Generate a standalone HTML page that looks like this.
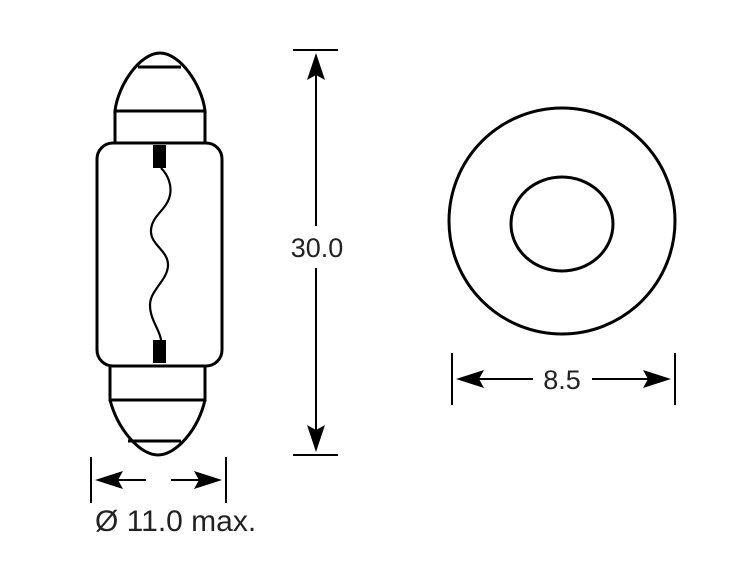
<!DOCTYPE html>
<html><head><style>html,body{margin:0;padding:0;background:#fff}svg{display:block}</style></head>
<body>
<svg width="741" height="574" viewBox="0 0 741 574" xmlns="http://www.w3.org/2000/svg">
<g fill="none" stroke="#000" stroke-width="3">
<path d="M115,111 C118,85 140,53 160,53 C180,53 202,85 205,111 Z"/>
<line x1="138" y1="67" x2="181" y2="67"/>
<rect x="115" y="111" width="90" height="32"/>
<rect x="97" y="143" width="125" height="223" rx="16"/>
<rect x="110" y="366" width="95" height="34"/>
<path d="M110,400 C118,430 140,455 158,455 C176,455 198,430 205,400"/>
<line x1="128" y1="441" x2="181" y2="441"/>
<path stroke-width="2.2" d="M161,168 C168,175 172,185 170,195 C167,210 152,215 151,230 C150,245 168,250 168,265 C168,280 150,290 150,305 C150,320 160,330 161,340"/>
<line x1="293" y1="50" x2="338" y2="50" stroke-width="2"/>
<line x1="293" y1="455" x2="338" y2="455" stroke-width="2"/>
<line x1="316" y1="70" x2="316" y2="226" stroke-width="2"/>
<line x1="316" y1="268" x2="316" y2="435" stroke-width="2"/>
<circle cx="562" cy="221" r="113"/>
<ellipse cx="562" cy="224" rx="51" ry="47"/>
<line x1="452" y1="353" x2="452" y2="405" stroke-width="2"/>
<line x1="675" y1="353" x2="675" y2="405" stroke-width="2"/>
<line x1="475" y1="379" x2="533" y2="379" stroke-width="2"/>
<line x1="592" y1="379" x2="652" y2="379" stroke-width="2"/>
<line x1="91" y1="457" x2="91" y2="503" stroke-width="2"/>
<line x1="226" y1="457" x2="226" y2="503" stroke-width="2"/>
<line x1="115" y1="480" x2="146" y2="480" stroke-width="2"/>
<line x1="171" y1="480" x2="202" y2="480" stroke-width="2"/>
</g>
<g fill="#000">
<rect x="153" y="145" width="13" height="23"/>
<rect x="153" y="340" width="13" height="23"/>
<polygon points="316,53 307,80 316,75 325,80"/>
<polygon points="316,452 307,425 316,430 325,425"/>
<polygon points="456,379 484,370 479,379 484,388"/>
<polygon points="671,379 643,370 648,379 643,388"/>
<polygon points="95,480 123,471 118,480 123,489"/>
<polygon points="222,480 194,471 199,480 194,489"/>
</g>
<g font-family="Liberation Sans, sans-serif" fill="#222">
<text x="317" y="257" font-size="27" text-anchor="middle">30.0</text>
<text x="562" y="389" font-size="27" text-anchor="middle">8.5</text>
<text x="95" y="531" font-size="30">Ø 11.0 max.</text>
</g>
</svg>
</body></html>
